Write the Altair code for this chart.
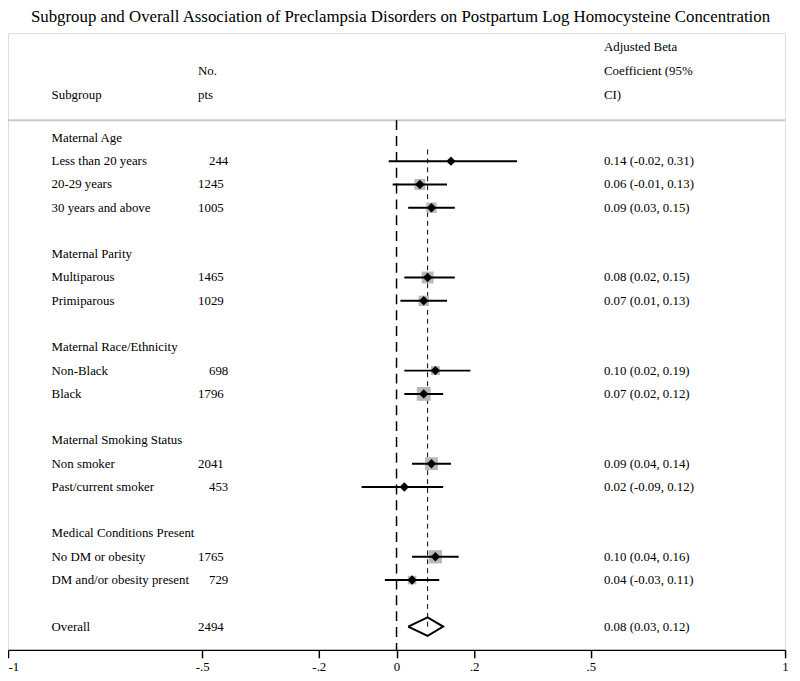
import altair as alt
import pandas as pd

# ---------------- data ----------------
title_text = ("Subgroup and Overall Association of Preclampsia Disorders on "
              "Postpartum Log Homocysteine Concentration")

group_names = ["Maternal Age", "Maternal Parity", "Maternal Race/Ethnicity",
               "Maternal Smoking Status", "Medical Conditions Present"]
group_sizes = [3, 2, 2, 2, 2]

sub_labels = ["Less than 20 years", "20-29 years", "30 years and above",
              "Multiparous", "Primiparous",
              "Non-Black", "Black",
              "Non smoker", "Past/current smoker",
              "No DM or obesity", "DM and/or obesity present"]
sub_n = [244, 1245, 1005, 1465, 1029, 698, 1796, 2041, 453, 1765, 729]
sub_est = [0.14, 0.06, 0.09, 0.08, 0.07, 0.10, 0.07, 0.09, 0.02, 0.10, 0.04]
sub_lo = [-0.02, -0.01, 0.03, 0.02, 0.01, 0.02, 0.02, 0.04, -0.09, 0.04, -0.03]
sub_hi = [0.31, 0.13, 0.15, 0.15, 0.13, 0.19, 0.12, 0.14, 0.12, 0.16, 0.11]
# relative box weights (estimated from grey square areas)
sub_weight = [16, 121, 110, 144, 110, 81, 196, 169, 30, 180, 75]

overall_label = "Overall"
overall_n = 2494
overall_est = 0.08
overall_lo = 0.03
overall_hi = 0.12

tick_values = [-1, -0.5, -0.2, 0, 0.2, 0.5, 1]

header_ci = ["Adjusted Beta", "Coefficient (95%", "CI)"]
header_n = ["No.", "pts"]
header_label = ["Subgroup"]

# ---------------- build tables ----------------
FONT = "Liberation Serif"
FS = 13
X_LABEL, X_N, X_N3, X_CI = 44, 192, 203, 602

rows = []
studies = []
k = 0
idx = 0
for g, size in zip(group_names, group_sizes):
    rows.append({"k": k, "label": g, "n": "", "ci": "", "short": 0})
    k += 1
    for _ in range(size):
        n = sub_n[idx]
        ci = f"{sub_est[idx]:.2f} ({sub_lo[idx]:.2f}, {sub_hi[idx]:.2f})"
        rows.append({"k": k, "label": sub_labels[idx], "n": str(n), "ci": ci,
                     "short": int(n < 1000)})
        studies.append({"k": k, "est": sub_est[idx], "lo": sub_lo[idx],
                        "hi": sub_hi[idx], "w": sub_weight[idx]})
        k += 1
        idx += 1
    k += 1
k_overall = k
rows.append({"k": k_overall, "label": overall_label, "n": str(overall_n),
             "ci": f"{overall_est:.2f} ({overall_lo:.2f}, {overall_hi:.2f})",
             "short": 0})

rows_df = pd.DataFrame(rows)
stud_df = pd.DataFrame(studies)

head_rows = [-3.9, -2.88, -1.86]
hci_df = pd.DataFrame({"k": head_rows[-len(header_ci):], "t": header_ci})
hn_df = pd.DataFrame({"k": head_rows[-len(header_n):], "t": header_n})
hl_df = pd.DataFrame({"k": head_rows[-len(header_label):], "t": header_label})

dh = 0.4
diamond_df = pd.DataFrame({
    "x": [overall_lo, overall_est, overall_hi, overall_est, overall_lo],
    "k": [k_overall, k_overall - dh, k_overall, k_overall + dh, k_overall],
    "o": [0, 1, 2, 3, 4],
})

sep_k = -0.76
zero_df = pd.DataFrame({"x": [0.0], "k1": [sep_k], "k2": [k_overall + 1.0]})
ovl_df = pd.DataFrame({"x": [overall_est], "k1": [0.5], "k2": [k_overall]})
sep_df = pd.DataFrame({"x1": [-1.0], "x2": [1.0], "k": [sep_k]})

# ---------------- scales ----------------
xs = alt.Scale(domain=[-1, 1], nice=False, zero=False)
ys = alt.Scale(domain=[-4.5, 22], nice=False, zero=False, reverse=True)

xaxis = alt.Axis(values=tick_values, title=None, grid=False,
                 labelExpr="replace(toString(datum.value), '0.', '.')",
                 labelAlign=alt.ExprRef(expr="datum.value == -1 ? 'left' : 'center'"),
                 labelFont=FONT, labelFontSize=13, labelColor="black",
                 labelPadding=3, tickSize=8, tickWidth=1.5, tickColor="black",
                 domainColor="black", domainWidth=1.5, labelFlush=False)

Y = lambda f: alt.Y(f"{f}:Q", scale=ys, axis=None)
X = lambda f: alt.X(f"{f}:Q", scale=xs, axis=xaxis)

sep = alt.Chart(sep_df).mark_rule(color="#c8c8c8", strokeWidth=2).encode(
    x=X("x1"), x2="x2:Q", y=Y("k"))

zero = alt.Chart(zero_df).mark_rule(color="black", strokeWidth=1.5,
                                    strokeDash=[10, 6]).encode(
    x=X("x"), y=Y("k1"), y2="k2:Q")

ovl = alt.Chart(ovl_df).mark_rule(color="black", strokeWidth=1,
                                  strokeDash=[5, 4]).encode(
    x=X("x"), y=Y("k1"), y2="k2:Q")

boxes = alt.Chart(stud_df).mark_square(color="#b8b8b8", opacity=1,
                                       filled=True).encode(
    x=X("est"), y=Y("k"),
    size=alt.Size("w:Q", scale=alt.Scale(domain=[0, 200], range=[0, 200]),
                  legend=None))

ci = alt.Chart(stud_df).mark_rule(color="black", strokeWidth=2).encode(
    x=X("lo"), x2="hi:Q", y=Y("k"))

pts = alt.Chart(stud_df).mark_point(shape="diamond", filled=True,
                                    color="black", size=90,
                                    opacity=1).encode(
    x=X("est"), y=Y("k"))

diamond = alt.Chart(diamond_df).mark_line(color="black", strokeWidth=2).encode(
    x=X("x"), y=Y("k"), order="o:Q")


def text_layer(df, field, xpix, filt=None):
    c = alt.Chart(df)
    if filt is not None:
        c = c.transform_filter(filt)
    return c.mark_text(align="left", baseline="middle", font=FONT,
                       fontSize=FS, color="black").encode(
        x=alt.value(xpix), y=Y("k"), text=f"{field}:N")


lab_t = text_layer(rows_df, "label", X_LABEL)
n4_t = text_layer(rows_df, "n", X_N, "datum.short == 0")
n3_t = text_layer(rows_df, "n", X_N3, "datum.short == 1")
ci_t = text_layer(rows_df, "ci", X_CI)
hci_t = text_layer(hci_df, "t", X_CI)
hn_t = text_layer(hn_df, "t", X_N)
hl_t = text_layer(hl_df, "t", X_LABEL)

chart = alt.layer(sep, zero, ovl, boxes, ci, pts, diamond,
                  lab_t, n4_t, n3_t, ci_t, hci_t, hn_t, hl_t).properties(
    width=785, height=623,
    title=alt.TitleParams(title_text, font=FONT, fontSize=17,
                          fontWeight="normal", color="black",
                          anchor="middle", frame="group", offset=7, dx=4),
    autosize=alt.AutoSizeParams(type="none"),
    padding={"left": 0, "top": 22, "right": 7, "bottom": 28},
).configure_view(stroke=None).configure(background="white")

chart.save("out.html", embed_options={"renderer": "svg", "actions": False})
